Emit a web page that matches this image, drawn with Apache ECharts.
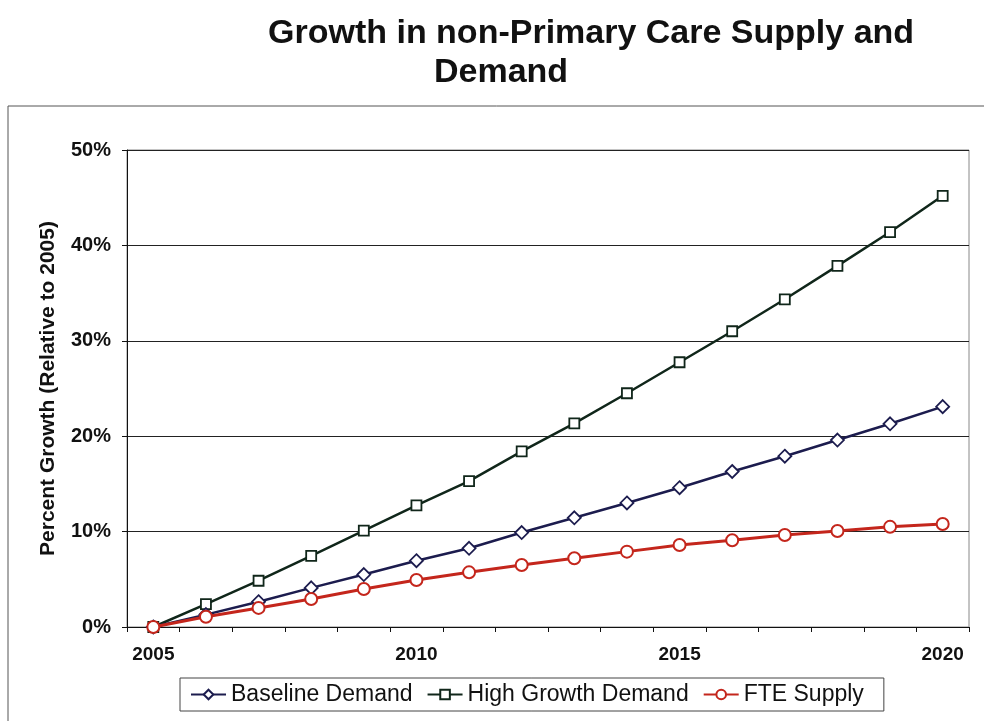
<!DOCTYPE html>
<html>
<head>
<meta charset="utf-8">
<script src="https://cdn.jsdelivr.net/npm/echarts@6/dist/echarts.min.js"></script>
<style>
  html, body { margin: 0; padding: 0; background: #fff; }
  #chart { width: 984px; height: 721px; }
</style>
</head>
<body>
<div id="chart"></div>
<script>
// Years on the category axis
const years = ['2005','2006','2007','2008','2009','2010','2011','2012',
               '2013','2014','2015','2016','2017','2018','2019','2020'];

// Percent growth relative to 2005
const baselineDemand = [0, 1.3, 2.65, 4.1, 5.5, 6.95, 8.25, 9.9,
                        11.45, 13.0, 14.6, 16.3, 17.9, 19.6, 21.3, 23.1];
const highGrowthDemand = [0, 2.4, 4.85, 7.45, 10.1, 12.75, 15.3, 18.4,
                          21.35, 24.5, 27.75, 31.0, 34.35, 37.85, 41.4, 45.2];
const fteSupply = [0, 1.08, 2.0, 2.93, 3.98, 4.93, 5.73, 6.5,
                   7.2, 7.9, 8.6, 9.1, 9.65, 10.06, 10.5, 10.8];

const yTicks = [0, 10, 20, 30, 40, 50];

const font = 'Liberation Sans, Arial, sans-serif';

const chart = echarts.init(document.getElementById('chart'));

chart.setOption({
  backgroundColor: '#fff',
  animation: false,
  title: [
    {
      text: 'Growth in non-Primary Care Supply and',
      left: 263, top: 12,
      textStyle: { fontFamily: font, fontSize: 34, fontWeight: 'bold', color: '#111' }
    },
    {
      text: 'Demand',
      left: 429, top: 51,
      textStyle: { fontFamily: font, fontSize: 34, fontWeight: 'bold', color: '#111' }
    }
  ],
  graphic: [
    {
      type: 'rect',
      shape: { x: 8, y: 106, width: 990, height: 700 },
      style: { fill: 'none', stroke: '#555', lineWidth: 1 },
      silent: true
    }
  ],
  legend: {
    left: 180, top: 678,
    padding: [5, 20, 5, 10],
    borderColor: '#444', borderWidth: 1,
    itemWidth: 35, itemHeight: 12, itemGap: 14,
    textStyle: { fontFamily: font, fontSize: 23, color: '#111' },
    data: ['Baseline Demand', 'High Growth Demand', 'FTE Supply']
  },
  grid: {
    left: 127, right: 15, top: 150, bottom: 94,
    show: true, borderColor: '#888', borderWidth: 1
  },
  xAxis: {
    type: 'category',
    data: years,
    boundaryGap: true,
    axisLine: { lineStyle: { color: '#111', width: 1 } },
    axisTick: { show: true, interval: 0, length: 5, lineStyle: { color: '#111' } },
    axisLabel: {
      interval: 4, margin: 18,
      fontFamily: font, fontSize: 19, fontWeight: 'bold', color: '#111'
    },
    splitLine: { show: false }
  },
  yAxis: {
    type: 'value',
    min: yTicks[0], max: yTicks[yTicks.length - 1], interval: 10,
    name: 'Percent Growth (Relative to 2005)',
    nameLocation: 'middle', nameGap: 68,
    nameTextStyle: { fontFamily: font, fontSize: 21, fontWeight: 'bold', color: '#111' },
    axisLine: { show: true, lineStyle: { color: '#111' } },
    axisTick: { show: true, length: 5, lineStyle: { color: '#111' } },
    axisLabel: {
      formatter: '{value}%', margin: 16,
      fontFamily: font, fontSize: 20, fontWeight: 'bold', color: '#111'
    },
    splitLine: { show: true, lineStyle: { color: '#222', width: 1 } }
  },
  series: [
    {
      name: 'Baseline Demand',
      type: 'line',
      data: baselineDemand,
      symbol: 'diamond', symbolSize: 13,
      lineStyle: { color: '#1c1c4e', width: 2.5 },
      itemStyle: { color: '#fff', borderColor: '#1c1c4e', borderWidth: 1.8 },
      z: 3
    },
    {
      name: 'High Growth Demand',
      type: 'line',
      data: highGrowthDemand,
      symbol: 'rect', symbolSize: 10,
      lineStyle: { color: '#10261a', width: 2.5 },
      itemStyle: { color: '#fff', borderColor: '#10261a', borderWidth: 1.8 },
      z: 2
    },
    {
      name: 'FTE Supply',
      type: 'line',
      data: fteSupply,
      symbol: 'circle', symbolSize: 12,
      lineStyle: { color: '#c4261c', width: 3 },
      itemStyle: { color: '#fff', borderColor: '#c4261c', borderWidth: 2 },
      z: 4
    }
  ]
});
</script>
</body>
</html>
